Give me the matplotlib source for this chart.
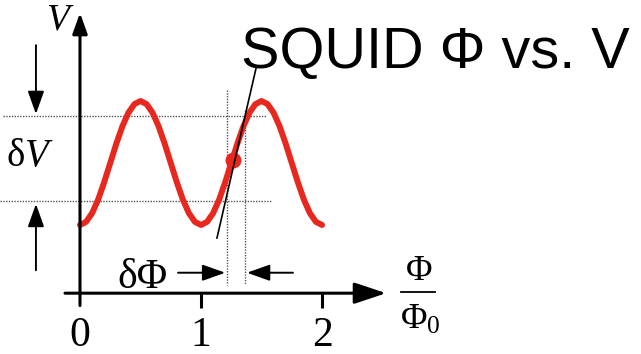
import numpy as np
import matplotlib
matplotlib.use("Agg")
import matplotlib.pyplot as plt
from matplotlib.patches import ArrowStyle

plt.rcParams["mathtext.fontset"] = "custom"
plt.rcParams["mathtext.rm"] = "Liberation Serif"
plt.rcParams["mathtext.it"] = "Liberation Serif:italic"

# Flux (in units of Phi_0) and normalised SQUID voltage
phi = [0.00, 0.05, 0.10, 0.15, 0.20, 0.25, 0.30, 0.35, 0.40, 0.45,
       0.50, 0.55, 0.60, 0.65, 0.70, 0.75, 0.80, 0.85, 0.90, 0.95,
       1.00, 1.05, 1.10, 1.15, 1.20, 1.25, 1.30, 1.35, 1.40, 1.45,
       1.50, 1.55, 1.60, 1.65, 1.70, 1.75, 1.80, 1.85, 1.90, 1.95, 2.00]
voltage = [-1.00, -0.95, -0.81, -0.59, -0.31, 0.00, 0.31, 0.59, 0.81, 0.95,
           1.00, 0.95, 0.81, 0.59, 0.31, 0.00, -0.31, -0.59, -0.81, -0.95,
           -1.00, -0.95, -0.81, -0.59, -0.31, 0.00, 0.31, 0.59, 0.81, 0.95,
           1.00, 0.95, 0.81, 0.59, 0.31, 0.00, -0.31, -0.59, -0.81, -0.95, -1.00]

tick_values = [0, 1, 2]
tick_labels = ["0", "1", "2"]

# Working point and its tangent
work_phi, work_v = 1.264, 0.05
tangent_phi = [1.132, 1.455]
tangent_v = [-1.21, 1.53]

# Voltage window (dV) and flux window (dPhi)
dv_levels = [-0.61, 0.76]
dphi_levels = [1.215, 1.364]

RED = "#e8281e"
SERIF = "Liberation Serif"

fig = plt.figure(figsize=(6.41, 3.54), dpi=100)
ax = fig.add_axes([0, 0, 1, 1])
ax.set_xlim(-0.661, 4.636)
ax.set_ylim(-3.081, 2.629)
ax.axis("off")

axis_v = -2.10  # level of the flux axis

def arrow(p0, p1, lw, hl, hw):
    ax.annotate("", xy=p1, xytext=p0,
                arrowprops=dict(arrowstyle=ArrowStyle("-|>", head_length=hl, head_width=hw),
                                lw=lw, color="black", shrinkA=0, shrinkB=0,
                                mutation_scale=10))

# Axes with arrow heads
arrow((-0.124, axis_v), (2.53, axis_v), 2.2, 1.95, 0.65)
arrow((0.0, -2.30), (0.0, 2.42), 2.2, 1.25, 0.45)
for t in tick_values[1:]:
    ax.plot([t, t], [axis_v, -2.34], color="black", lw=2.2, solid_capstyle="butt")
for t, lab in zip(tick_values, tick_labels):
    ax.text(t, -2.78, lab, family=SERIF, fontsize=30, ha="center", va="center")

# Dotted guide lines
dot = dict(color="#555555", lw=1.0, linestyle=(0, (1, 1)))
ax.plot([-0.636, 1.537], [dv_levels[1]] * 2, **dot)
ax.plot([-0.661, 1.587], [dv_levels[0]] * 2, **dot)
ax.plot([dphi_levels[0]] * 2, [1.18, -1.97], **dot)
ax.plot([dphi_levels[1]] * 2, [0.85, -1.97], **dot)

# Voltage-flux characteristic
ax.plot(phi, voltage, color=RED, lw=4.3, solid_capstyle="round")
ax.plot([work_phi], [work_v], "o", color=RED, markersize=11.5, mec="none")
ax.plot(tangent_phi, tangent_v, color="black", lw=1.2)

# dV arrows and label
arrow((-0.364, 1.90), (-0.364, 0.79), 1.4, 1.4, 0.5)
arrow((-0.364, -1.73), (-0.364, -0.66), 1.4, 1.4, 0.5)
ax.text(-0.41, 0.10, r"δ$\mathit{V}$", family=SERIF, fontsize=28, ha="center", va="center")

# dPhi arrows and label
arrow((0.81, -1.77), (1.20, -1.77), 1.4, 1.4, 0.5)
arrow((1.76, -1.77), (1.38, -1.77), 1.4, 1.4, 0.5)
ax.text(0.515, -1.85, "δΦ", family=SERIF, fontsize=30, ha="center", va="center")

# Axis labels
ax.text(-0.165, 2.31, r"$\mathit{V}$", fontsize=27, ha="center", va="center")
ax.text(2.80, -1.75, "Φ", family=SERIF, fontsize=26, ha="center", va="center")
ax.plot([2.655, 2.935], [-2.08, -2.08], color="black", lw=1.3)
ax.text(2.81, -2.52, r"$\Phi_0$", fontsize=26, ha="center", va="center")

ax.text(1.33, 1.532, "SQUID Φ vs. V", family="Liberation Sans", fontsize=41.5,
        ha="left", va="baseline")

fig.savefig("out.png", dpi=100)
